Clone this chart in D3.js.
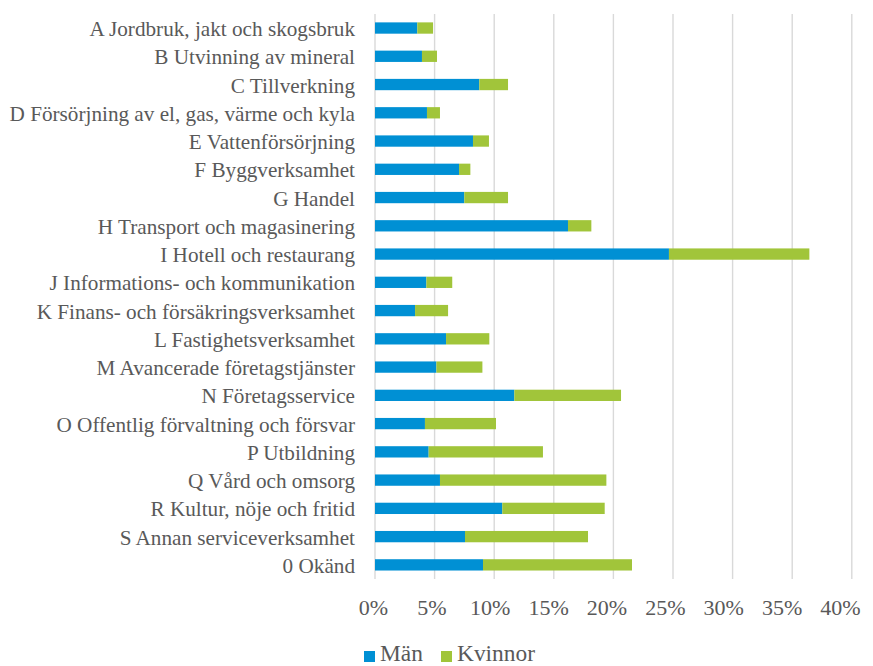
<!DOCTYPE html>
<html><head><meta charset="utf-8">
<script src="https://cdn.jsdelivr.net/npm/d3@7"></script>
<style>
body{margin:0;background:#fff;} svg{display:block;}
svg text{font-family:"Liberation Serif","Times New Roman","DejaVu Serif",serif;}
</style>
</head><body>
<div id="chart"></div>
<script>
const categories = [
  "A Jordbruk, jakt och skogsbruk","B Utvinning av mineral","C Tillverkning",
  "D Försörjning av el, gas, värme och kyla","E Vattenförsörjning","F Byggverksamhet",
  "G Handel","H Transport och magasinering","I Hotell och restaurang",
  "J Informations- och kommunikation","K Finans- och försäkringsverksamhet",
  "L Fastighetsverksamhet","M Avancerade företagstjänster","N Företagsservice",
  "O Offentlig förvaltning och försvar","P Utbildning","Q Vård och omsorg",
  "R Kultur, nöje och fritid","S Annan serviceverksamhet","0 Okänd"
];
const man = [3.55,3.94,8.75,4.36,8.22,7.05,7.49,16.19,24.66,4.31,3.36,5.96,5.15,11.69,4.19,4.50,5.45,10.68,7.55,9.06];
const kvinnor = [1.32,1.26,2.41,1.09,1.34,0.95,3.67,1.96,11.78,2.17,2.77,3.63,3.86,8.95,5.96,9.59,13.96,8.59,10.32,12.50];
const xTicks = [0,5,10,15,20,25,30,35,40];
const seriesNames = ["Män","Kvinnor"];
const colors = ["#0090D4","#A1C53A"];

const W = 873, H = 666;
const svg = d3.select("#chart").append("svg").attr("width", W).attr("height", H);
const x = d3.scaleLinear().domain([0,40]).range([375, 851.8]);
// label positions for tick text (text is laid out slightly tighter than the gridlines)
const xLab = d3.scaleLinear().domain([0,40]).range([373, 840]);
const y = d3.scaleBand().domain(categories).range([13.9, 579]).paddingInner(0.6).paddingOuter(0.3);

// gridlines
svg.append("g").selectAll("line").data(xTicks).join("line")
  .attr("x1", d => x(d)).attr("x2", d => x(d))
  .attr("y1", 13.9).attr("y2", 579)
  .attr("stroke", "#D9D9D9").attr("stroke-width", 1.4);

const rows = categories.map((c,i) => ({c, m: man[i], k: kvinnor[i]}));
svg.append("g").selectAll("rect").data(rows).join("rect")
  .attr("x", x(0)).attr("y", d => y(d.c))
  .attr("width", d => x(d.m) - x(0)).attr("height", y.bandwidth())
  .attr("fill", colors[0]);
svg.append("g").selectAll("rect").data(rows).join("rect")
  .attr("x", d => x(d.m)).attr("y", d => y(d.c))
  .attr("width", d => x(d.m + d.k) - x(d.m)).attr("height", y.bandwidth())
  .attr("fill", colors[1]);

// category labels
const yAxis = d3.axisLeft(y).tickSize(0).tickPadding(0);
const ya = svg.append("g").attr("transform", "translate(355,0)").call(yAxis);
ya.select(".domain").remove();
ya.attr("font-family", null).attr("font-size", null);
ya.selectAll("text").attr("dy", "0.38em")
  .style("font-size", "21.2px").attr("fill", "#595959");

// x axis labels
const xAxis = d3.axisBottom(xLab).tickValues(xTicks).tickFormat(d => d + "%").tickSize(0).tickPadding(0);
const xa = svg.append("g").attr("transform", "translate(0,615)").call(xAxis);
xa.select(".domain").remove();
xa.attr("font-family", null).attr("font-size", null);
xa.selectAll("text").attr("dy", 0).attr("y", 0)
  .style("font-size", "22px").attr("fill", "#595959");

// legend
const leg = svg.append("g").attr("fill", "#595959");
const legX = [364, 441];
seriesNames.forEach((n,i) => {
  leg.append("rect").attr("x", legX[i]).attr("y", 651).attr("width", 11).attr("height", 11).attr("fill", colors[i]);
  leg.append("text").attr("x", legX[i] + 16).attr("y", 660.5).style("font-size", "23.4px").text(n);
});
</script>
</body></html>
